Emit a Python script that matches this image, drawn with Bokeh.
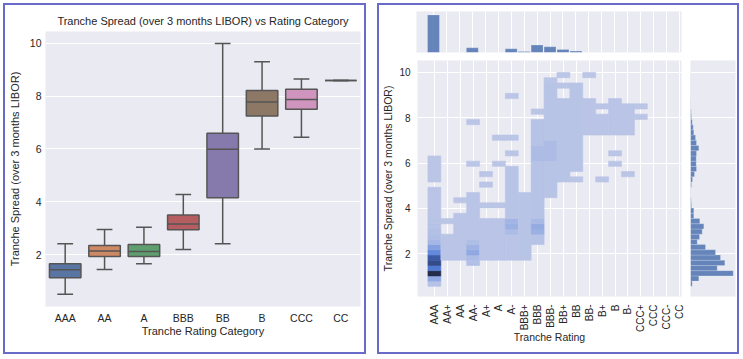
import numpy as np
from bokeh.plotting import figure
from bokeh.layouts import row, column
from bokeh.models import FactorRange, Range1d, FixedTicker, ColumnDataSource, Spacer
from bokeh.transform import dodge
from bokeh.embed import file_html
from bokeh.resources import INLINE

FONT = "Liberation Sans"
TXT = "#262626"
BG = "#eaeaf2"
BORDER = "#6a6ac8"
LINE = "#555555"

# ---------------- left panel data (box plot) ----------------
categories = ["AAA", "AA", "A", "BBB", "BB", "B", "CCC", "CC"]
box_colors = ["#5975a4", "#cc8963", "#5f9e6e", "#b55d60", "#857aab", "#8d7866", "#d095bf", "#797979"]
whisk_lo = [0.49, 1.43, 1.65, 2.19, 2.41, 6.00, 6.44, 8.59]
q1 = [1.12, 1.92, 1.92, 2.94, 4.15, 7.25, 7.50, 8.59]
median = [1.42, 2.13, 2.11, 3.16, 5.99, 7.78, 7.87, 8.59]
q3 = [1.65, 2.34, 2.38, 3.50, 6.59, 8.21, 8.26, 8.59]
whisk_hi = [2.41, 2.95, 3.03, 4.27, 10.00, 9.30, 8.65, 8.59]

# ---------------- right panel data (joint histogram) ----------------
fine_ratings = ["AAA", "AA+", "AA", "AA-", "A+", "A", "A-", "BBB+", "BBB", "BBB-",
                "BB+", "BB", "BB-", "B+", "B", "B-", "CCC+", "CCC", "CCC-", "CC"]
spread_min, spread_max, n_bins = 0.55, 10.0, 41

# 2D histogram cells: rating index, first bin, last bin, count (per bin)
cell_rating = [0, 0, 0, 0, 0, 0, 0, 0, 0, 0, 0, 0, 0, 0, 0,
               1, 1,
               2, 2,
               3, 3, 3, 3, 3, 3, 3, 3,
               4, 4, 4, 4,
               5, 5, 5, 5,
               6, 6, 6, 6, 6, 6, 6, 6,
               7,
               8, 8, 8, 8, 8, 8, 8, 8,
               9, 9, 9, 9,
               10, 10, 10,
               11, 11,
               12, 12,
               13, 13, 13,
               14, 14, 14,
               15, 15,
               16, 16]
cell_bin_from = [0, 1, 2, 3, 4, 5, 6, 7, 8, 9, 10, 11, 12, 13, 20,
                 5, 12,
                 5, 16,
                 4, 5, 6, 7, 8, 9, 23, 31,
                 5, 15, 19, 21,
                 5, 15, 23, 28,
                 5, 10, 11, 12, 13, 25, 28, 36,
                 5,
                 8, 10, 11, 12, 13, 24, 27, 33,
                 17, 24, 28, 39,
                 20, 38, 40,
                 20, 22,
                 29, 40,
                 20, 29, 34,
                 23, 25, 29,
                 21, 29,
                 32, 34]
cell_bin_to = [0, 1, 2, 3, 4, 5, 6, 7, 8, 9, 10, 11, 12, 18, 24,
               9, 12,
               13, 16,
               4, 5, 6, 7, 8, 17, 23, 31,
               12, 15, 19, 21,
               12, 15, 23, 28,
               9, 10, 11, 12, 22, 25, 28, 36,
               17,
               9, 10, 11, 12, 23, 26, 31, 33,
               23, 27, 38, 39,
               35, 38, 40,
               20, 38,
               35, 40,
               20, 32, 34,
               23, 25, 35,
               21, 34,
               32, 34]
cell_count = [15, 70, 400, 190, 300, 260, 150, 90, 40, 25, 20, 15, 12, 10, 8,
              10, 8,
              10, 8,
              20, 30, 70, 50, 25, 10, 8, 8,
              10, 8, 8, 8,
              10, 8, 8, 8,
              10, 30, 55, 45, 12, 8, 8, 8,
              12,
              15, 55, 65, 35, 15, 30, 15, 8,
              12, 28, 12, 8,
              12, 8, 8,
              8, 12,
              10, 8,
              8, 10, 10,
              8, 8, 10,
              8, 10,
              8, 8]

# marginal histograms
top_counts = [377, 0, 0, 47, 0, 0, 37, 10, 74, 57, 30, 14, 0, 0, 0, 0, 0, 0, 0, 0]
side_counts = [17, 83, 427, 267, 343, 300, 250, 150, 67, 90, 117, 133, 93, 33, 33, 10, 7, 3, 3, 10,
               20, 40, 60, 57, 57, 60, 83, 60, 50, 33, 27, 17, 10, 7, 3, 3, 2, 2, 2, 2, 2]


def style_axes(p, tick_size="10.5px", label_size="11px"):
    for ax in list(p.xaxis) + list(p.yaxis):
        ax.axis_line_color = None
        ax.major_tick_line_color = None
        ax.minor_tick_line_color = None
        ax.major_tick_out = 0
        ax.major_tick_in = 0
        ax.minor_tick_out = 0
        ax.minor_tick_in = 0
        ax.major_label_text_font = FONT
        ax.major_label_text_font_size = tick_size
        ax.major_label_text_color = TXT
        ax.axis_label_text_font = FONT
        ax.axis_label_text_font_size = label_size
        ax.axis_label_text_font_style = "normal"
        ax.axis_label_text_color = TXT


# ---------------- left figure ----------------
src = ColumnDataSource(dict(cat=categories, color=box_colors, lo=whisk_lo, q1=q1,
                            med=median, q3=q3, hi=whisk_hi))
p1 = figure(x_range=FactorRange(*categories), y_range=Range1d(0.03, 10.45),
            width=359, height=347, output_backend="svg", toolbar_location=None,
            min_border_left=38, min_border_right=4, min_border_top=26, min_border_bottom=46,
            background_fill_color=BG, border_fill_color="white", outline_line_color=None,
            title="Tranche Spread (over 3 months LIBOR) vs Rating Category")
p1.title.text_font = FONT
p1.title.text_font_size = "11px"
p1.title.text_font_style = "normal"
p1.title.text_color = TXT
p1.title.align = "center"
p1.xgrid.grid_line_color = None
p1.ygrid.grid_line_color = "white"
p1.ygrid.grid_line_width = 1
p1.yaxis.ticker = FixedTicker(ticks=[2, 4, 6, 8, 10])
p1.xaxis.axis_label = "Tranche Rating Category"
p1.yaxis.axis_label = "Tranche Spread (over 3 months LIBOR)"
style_axes(p1)
p1.xaxis.major_label_standoff = 5
p1.xaxis.axis_label_standoff = -2
p1.yaxis.major_label_standoff = 4
p1.yaxis.axis_label_standoff = 6

p1.segment(x0="cat", x1="cat", y0="q3", y1="hi", source=src, line_color=LINE, line_width=1.5)
p1.segment(x0="cat", x1="cat", y0="lo", y1="q1", source=src, line_color=LINE, line_width=1.5)
p1.segment(x0=dodge("cat", -0.2, range=p1.x_range), x1=dodge("cat", 0.2, range=p1.x_range),
           y0="hi", y1="hi", source=src, line_color=LINE, line_width=1.5)
p1.segment(x0=dodge("cat", -0.2, range=p1.x_range), x1=dodge("cat", 0.2, range=p1.x_range),
           y0="lo", y1="lo", source=src, line_color=LINE, line_width=1.5)
p1.vbar(x="cat", bottom="q1", top="q3", width=0.8, source=src, fill_color="color",
        line_color=LINE, line_width=1.5)
p1.segment(x0=dodge("cat", -0.4, range=p1.x_range), x1=dodge("cat", 0.4, range=p1.x_range),
           y0="med", y1="med", source=src, line_color=LINE, line_width=1.5)

# ---------------- right panel ----------------
edges = np.linspace(spread_min, spread_max, n_bins + 1)
stops = [(0.0, (192, 201, 231)), (0.1, (165, 183, 228)), (0.25, (125, 155, 224)),
         (0.45, (85, 125, 215)), (0.65, (60, 90, 165)), (0.85, (45, 62, 110)), (1.0, (35, 44, 72))]
count_max = max(cell_count)


def count_color(c):
    t = min(c / count_max, 1.0)
    for (t0, c0), (t1, c1) in zip(stops[:-1], stops[1:]):
        if t <= t1:
            f = (t - t0) / (t1 - t0)
            rgb = [int(round(a + (b - a) * f)) for a, b in zip(c0, c1)]
            return "#%02x%02x%02x" % tuple(rgb)
    return "#%02x%02x%02x" % stops[-1][1]


cells = ColumnDataSource(dict(
    left=[r - 0.5 for r in cell_rating],
    right=[r + 0.5 for r in cell_rating],
    bottom=[edges[k] for k in cell_bin_from],
    top=[edges[k + 1] for k in cell_bin_to],
    color=[count_color(n) for n in cell_count],
))

xr = Range1d(-1.31, 19.15)
yr = Range1d(0.10, 10.53)
idx = list(range(len(fine_ratings)))

p2 = figure(x_range=xr, y_range=yr, width=306, height=296, output_backend="svg",
            toolbar_location=None, min_border_left=37, min_border_right=4,
            min_border_top=4, min_border_bottom=56, background_fill_color=BG,
            border_fill_color="white", outline_line_color=None)
p2.quad(left="left", right="right", bottom="bottom", top="top", source=cells,
        fill_color="color", line_color="color", line_width=0.6)
p2.xaxis.ticker = FixedTicker(ticks=idx)
p2.xaxis.major_label_overrides = {i: r for i, r in zip(idx, fine_ratings)}
p2.xaxis.major_label_orientation = np.pi / 2
p2.yaxis.ticker = FixedTicker(ticks=[2, 4, 6, 8, 10])
p2.xgrid.ticker = FixedTicker(ticks=idx)
p2.xgrid.grid_line_color = "white"
p2.ygrid.grid_line_color = "white"
p2.xaxis.axis_label = "Tranche Rating"
p2.yaxis.axis_label = "Tranche Spread (over 3 months LIBOR)"
style_axes(p2, tick_size="10px", label_size="10.5px")
p2.xaxis.major_label_standoff = 8
p2.xaxis.axis_label_standoff = -4
p2.yaxis.major_label_standoff = 7
p2.yaxis.axis_label_standoff = 2

p3 = figure(x_range=xr, y_range=Range1d(0, max(top_counts) * 1.09), width=306, height=51,
            output_backend="svg", toolbar_location=None, min_border_left=37,
            min_border_right=4, min_border_top=6, min_border_bottom=4,
            background_fill_color=BG, border_fill_color="white", outline_line_color=None)
p3.vbar(x=idx, top=top_counts, width=0.92, fill_color="#4c72b0", fill_alpha=0.85,
        line_color="white", line_alpha=0.4, line_width=0.5)
p3.xaxis.visible = False
p3.yaxis.visible = False
p3.xgrid.ticker = FixedTicker(ticks=idx)
p3.xgrid.grid_line_color = "white"
p3.ygrid.grid_line_color = None

centers = (edges[:-1] + edges[1:]) / 2
p4 = figure(x_range=Range1d(0, max(side_counts) * 1.054), y_range=yr, width=52, height=296,
            output_backend="svg", toolbar_location=None, min_border_left=5,
            min_border_right=2, min_border_top=4, min_border_bottom=56,
            background_fill_color=BG, border_fill_color="white", outline_line_color=None)
p4.hbar(y=centers, height=edges[1] - edges[0], left=0, right=side_counts,
        fill_color="#4c72b0", fill_alpha=0.85, line_color="white", line_alpha=0.4, line_width=0.5)
p4.xaxis.visible = False
p4.yaxis.visible = False
p4.ygrid.ticker = FixedTicker(ticks=[2, 4, 6, 8, 10])
p4.ygrid.grid_line_color = "white"
p4.xgrid.grid_line_color = None

border_css = {"border": f"2px solid {BORDER}"}
left_box = column(p1, styles=border_css)
right_box = column(row(p3, Spacer(width=52, height=51)), row(p2, p4), styles=border_css)
root = row(left_box, Spacer(width=11, height=10), right_box, margin=(3, 0, 0, 3))

open("out.html", "w").write(file_html(root, INLINE))
